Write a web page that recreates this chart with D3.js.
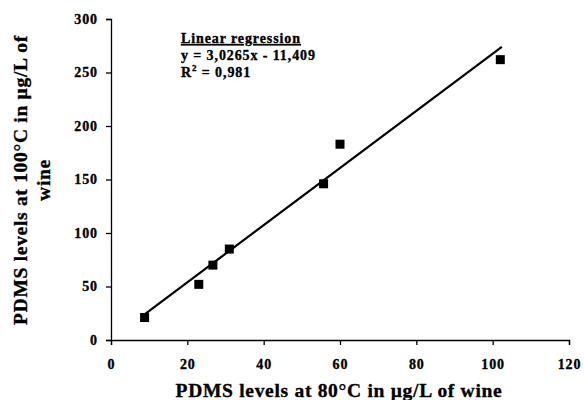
<!DOCTYPE html>
<html>
<head>
<meta charset="utf-8">
<script src="https://cdn.jsdelivr.net/npm/d3@7"></script>
<style>
  body { margin: 0; background: #fff; }
  svg text { font-family: "Liberation Serif", "Times New Roman", serif; font-weight: bold; fill: #000; stroke: #000; stroke-width: 0.35px; }
  .axis path, .axis line { stroke: #000; stroke-width: 1.3; }
  .axis text { font-size: 14px; letter-spacing: 0.9px; }
</style>
</head>
<body>
<div id="chart"></div>
<script>
// PDMS levels: 80°C vs 100°C extraction

const xValues = [8.8, 23, 26.7, 31, 55.7, 60, 102];
const yValues = [21, 52, 70, 85, 146, 183, 262];

// regression line as drawn (endpoints)
const fitX = [8.8, 102.4];
const fitY = [24, 274];

const xTicks = [0, 20, 40, 60, 80, 100, 120];
const yTicks = [0, 50, 100, 150, 200, 250, 300];

const annotation = ['Linear regression', 'y = 3,0265x - 11,409'];

const width = 584, height = 400;
const margin = { top: 19, right: 15, bottom: 60, left: 111 };

const svg = d3.select('#chart')
    .append('svg')
    .attr('width', width)
    .attr('height', height);

const x = d3.scaleLinear()
    .domain([0, 120])
    .range([margin.left, 569]);

const y = d3.scaleLinear()
    .domain([0, 300])
    .range([340, margin.top]);

// X-axis
svg.append('g')
    .attr('class', 'axis x-axis')
    .attr('transform', `translate(0,${y(0)})`)
    .call(d3.axisBottom(x).tickValues(xTicks).tickSizeOuter(0).tickSize(5).tickPadding(14));

// Y-axis
svg.append('g')
    .attr('class', 'axis y-axis')
    .attr('transform', `translate(${x(0)},0)`)
    .call(d3.axisLeft(y).tickValues(yTicks).tickSizeOuter(0).tickSize(5).tickPadding(8));

// Regression line
svg.append('line')
    .attr('x1', x(fitX[0]))
    .attr('y1', y(fitY[0]))
    .attr('x2', x(fitX[1]))
    .attr('y2', y(fitY[1]))
    .attr('stroke', '#000')
    .attr('stroke-width', 2.2);

// Points
const pts = xValues.map((v, i) => ({ x: v, y: yValues[i] }));
const s = 9;
svg.selectAll('.pt')
    .data(pts)
    .enter()
    .append('rect')
    .attr('class', 'pt')
    .attr('x', d => x(d.x) - s / 2)
    .attr('y', d => y(d.y) - s / 2)
    .attr('width', s)
    .attr('height', s)
    .attr('fill', '#000');

// Annotation
const ann = svg.append('g')
    .attr('transform', 'translate(181,0)')
    .style('font-size', '14px')
    .style('letter-spacing', '0.9px');

ann.append('text')
    .attr('y', 43)
    .style('text-decoration', 'underline')
    .text(annotation[0]);

ann.append('text')
    .attr('y', 60)
    .text(annotation[1]);

const r2 = ann.append('text').attr('y', 77);
r2.append('tspan').text('R');
r2.append('tspan').attr('dy', -6).style('font-size', '9px').text('2');
r2.append('tspan').attr('dy', 6).text(' = 0,981');

// Axis titles
svg.append('text')
    .attr('x', 339)
    .attr('y', 397)
    .attr('text-anchor', 'middle')
    .style('font-size', '19.5px')
    .style('letter-spacing', '0.7px')
    .text('PDMS levels at 80°C in µg/L of wine');

const yt = svg.append('text')
    .attr('transform', 'translate(27,180) rotate(-90)')
    .attr('text-anchor', 'middle')
    .style('font-size', '19.5px')
    .style('letter-spacing', '0.7px');
yt.append('tspan').attr('x', 0).attr('y', 0).text('PDMS levels at 100°C in µg/L of');
yt.append('tspan').attr('x', 0).attr('y', 23).text('wine');
</script>
</body>
</html>
